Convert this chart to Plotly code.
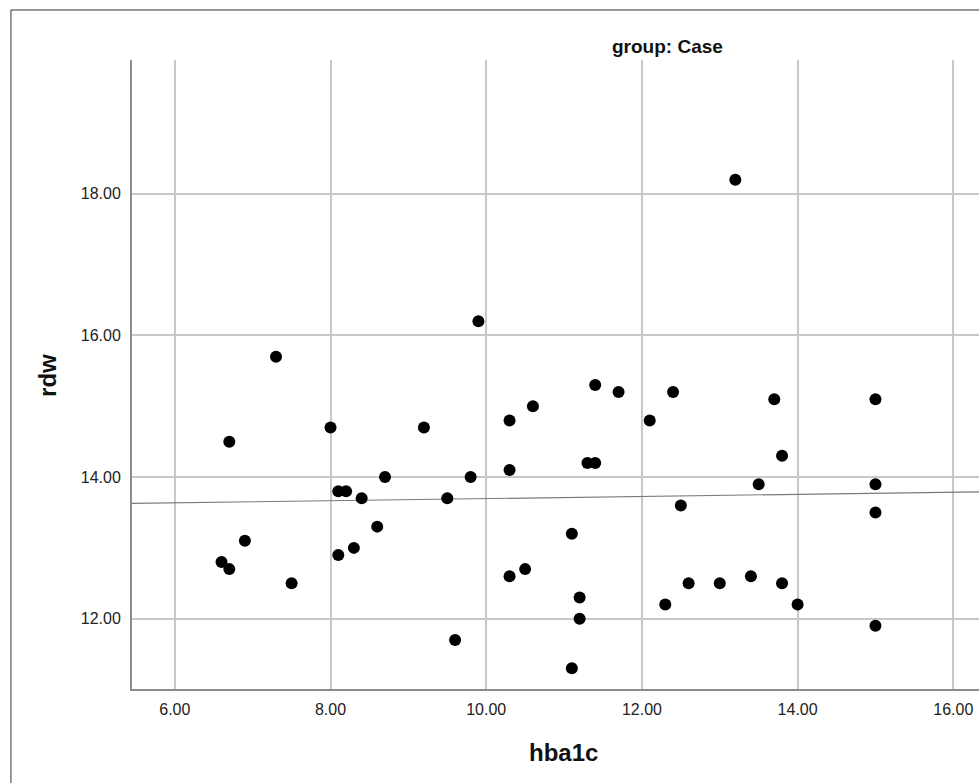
import numpy as np
import plotly.graph_objects as go

hba1c = [6.6, 6.7, 6.7, 6.9, 7.3, 7.5, 8.0, 8.1, 8.2, 8.1, 8.3, 8.4, 8.6, 8.7,
         9.2, 9.5, 9.6, 9.8, 9.9, 10.3, 10.3, 10.3, 10.5, 10.6, 11.1, 11.1,
         11.2, 11.2, 11.3, 11.4, 11.4, 11.7, 12.1, 12.3, 12.4, 12.5, 12.6,
         13.0, 13.2, 13.4, 13.5, 13.7, 13.8, 13.8, 14.0, 15.0, 15.0, 15.0, 15.0]
rdw = [12.8, 14.5, 12.7, 13.1, 15.7, 12.5, 14.7, 13.8, 13.8, 12.9, 13.0, 13.7, 13.3, 14.0,
       14.7, 13.7, 11.7, 14.0, 16.2, 14.8, 14.1, 12.6, 12.7, 15.0, 13.2, 11.3,
       12.3, 12.0, 14.2, 14.2, 15.3, 15.2, 14.8, 12.2, 15.2, 13.6, 12.5,
       12.5, 18.2, 12.6, 13.9, 15.1, 14.3, 12.5, 12.2, 15.1, 13.9, 13.5, 11.9]

x_ticks = [6, 8, 10, 12, 14, 16]
x_tick_labels = ["6.00", "8.00", "10.00", "12.00", "14.00", "16.00"]
y_ticks = [12, 14, 16, 18]
y_tick_labels = ["12.00", "14.00", "16.00", "18.00"]

x_range = [5.45, 16.33]
y_range = [11.007, 19.89]

slope, intercept = np.polyfit(hba1c, rdw, 1)
fit_x = np.array(x_range)
fit_y = slope * fit_x + intercept

fig = go.Figure()
fig.add_trace(go.Scatter(x=fit_x, y=fit_y, mode="lines",
                         line=dict(color="#7a7a7a", width=1.2),
                         hoverinfo="skip", showlegend=False))
fig.add_trace(go.Scatter(x=hba1c, y=rdw, mode="markers",
                         marker=dict(color="black", size=12, line=dict(width=0)),
                         showlegend=False))

font_family = "Liberation Sans, Arial, sans-serif"
fig.update_layout(
    width=979, height=783,
    margin=dict(l=132, r=0, t=60, b=94),
    plot_bgcolor="white", paper_bgcolor="white",
    font=dict(family=font_family, color="#222222"),
    xaxis=dict(range=x_range, tickvals=x_ticks, ticktext=x_tick_labels,
               showgrid=True, gridcolor="#c8c8c8", gridwidth=1.5,
               showline=True, linecolor="#8c8c8c", linewidth=2,
               zeroline=False, ticks="", ticklabelstandoff=5,
               tickfont=dict(size=16, family=font_family, color="#222222")),
    yaxis=dict(range=y_range, tickvals=y_ticks, ticktext=y_tick_labels,
               showgrid=True, gridcolor="#c8c8c8", gridwidth=1.5,
               showline=True, linecolor="#8c8c8c", linewidth=2,
               zeroline=False, ticks="", ticklabelstandoff=6,
               tickfont=dict(size=16, family=font_family, color="#222222")),
    annotations=[
        dict(text="<b>hba1c</b>", xref="paper", yref="paper", x=0.5089, y=-0.1017,
             xanchor="center", yanchor="middle", showarrow=False,
             font=dict(size=24, family=font_family, color="#111111")),
        dict(text="<b>rdw</b>", xref="paper", yref="paper", x=-0.1004, y=0.4992,
             xanchor="center", yanchor="middle", showarrow=False, textangle=-90,
             font=dict(size=24, family=font_family, color="#111111")),
        dict(text="<b>group: Case</b>", xref="paper", yref="paper", x=0.6317, y=1.0207,
             xanchor="center", yanchor="middle", showarrow=False,
             font=dict(size=19, family=font_family, color="#111111")),
    ],
    shapes=[
        dict(type="line", xref="paper", yref="paper", x0=-0.1429, x1=-0.1429,
             y0=-0.2, y1=1.0795, line=dict(color="#333333", width=1)),
        dict(type="line", xref="paper", yref="paper", x0=-0.1429, x1=1.01,
             y0=1.0795, y1=1.0795, line=dict(color="#333333", width=1)),
    ],
)

fig.write_html("out.html", config={"displayModeBar": False},
               post_script="document.body.style.margin='0px';document.body.style.overflow='hidden';")
